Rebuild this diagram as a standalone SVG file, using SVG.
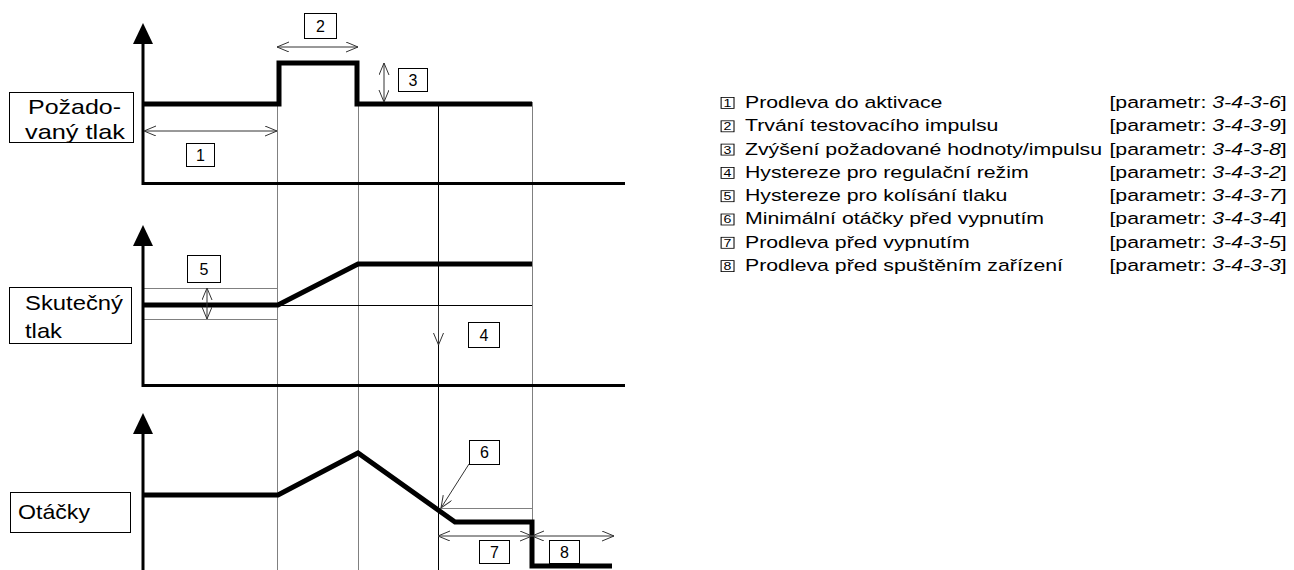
<svg xmlns="http://www.w3.org/2000/svg" width="1294" height="570" viewBox="0 0 1294 570">
  <defs>
    <marker id="open" markerUnits="userSpaceOnUse" markerWidth="14" markerHeight="12" refX="12" refY="5" orient="auto-start-reverse" viewBox="0 0 14 12">
      <path d="M0,0 L12,5 L0,10" fill="none" stroke="#333" stroke-width="1"/>
    </marker>
  </defs>
  <style>
    text { font-family: "Liberation Sans", Arial, sans-serif; fill: #000; }
    .axis { stroke: #000; stroke-width: 3; fill: none; }
    .tip { fill: #000; }
    .sig { stroke: #000; stroke-width: 5; fill: none; stroke-linejoin: miter; stroke-linecap: butt; }
    .grid { stroke: #808080; stroke-width: 1; fill: none; }
    .gridk { stroke: #000; stroke-width: 1; fill: none; }
    .dim { stroke: #333; stroke-width: 1; fill: none; marker-start: url(#open); marker-end: url(#open); }
    .one { stroke: #333; stroke-width: 1; fill: none; marker-end: url(#open); }
    .lbl { fill: #fff; stroke: #000; stroke-width: 1; }
    .lbltxt { font-size: 21px; }
    .num { fill: #fff; stroke: #000; stroke-width: 1; }
    .numtxt { font-size: 16px; text-anchor: middle; }
    .leg { font-size: 16.5px; }
    .legbox { fill: #fff; stroke: #000; stroke-width: 0.8; }
    .legnum { font-size: 11px; text-anchor: middle; }
  </style>

  <!-- time grid -->
  <g id="grid">
    <line class="grid" x1="277.5" y1="104" x2="277.5" y2="570"/>
    <line class="grid" x1="358.5" y1="104" x2="358.5" y2="570"/>
    <line class="gridk" x1="438.5" y1="104" x2="438.5" y2="570"/>
    <line class="grid" x1="532.5" y1="102" x2="532.5" y2="522"/>
    <line class="grid" x1="143" y1="288.5" x2="277" y2="288.5"/>
    <line class="grid" x1="143" y1="319.5" x2="277" y2="319.5"/>
    <line class="gridk" x1="277" y1="305.5" x2="532" y2="305.5" stroke="#444"/>
    <line class="grid" x1="438" y1="508.5" x2="532" y2="508.5"/>
  </g>

  <!-- axes -->
  <g id="axes">
    <path class="axis" d="M143,40 V183.5 H625"/>
    <path class="tip" d="M143,23 L153,44 L133,44 Z"/>
    <path class="axis" d="M143,242 V385.5 H625"/>
    <path class="tip" d="M143,225 L153,246 L133,246 Z"/>
    <path class="axis" d="M143,430 V570"/>
    <path class="tip" d="M143,413 L153,434 L133,434 Z"/>
  </g>

  <!-- signal curves -->
  <g id="signals">
    <path class="sig" d="M143,104 H279 V63 H357 V104 H532"/>
    <path class="sig" d="M143,305 H278 L358,264 H532"/>
    <path class="sig" d="M143,495 H278 L358,453 L455,522 H532 V566 H612"/>
  </g>

  <!-- dimension arrows -->
  <g id="connectors">
    <line class="dim" x1="144" y1="131" x2="277" y2="131"/>
    <line class="dim" x1="277" y1="47" x2="358" y2="47"/>
    <line class="dim" x1="384" y1="63" x2="384" y2="102"/>
    <line class="dim" x1="207" y1="288" x2="207" y2="319"/>
    <line class="one" x1="438.5" y1="306" x2="438.5" y2="345"/>
    <line class="one" x1="469" y1="464" x2="441" y2="508"/>
    <line class="dim" x1="438" y1="536" x2="532" y2="536"/>
    <line class="dim" x1="532" y1="536" x2="614" y2="536"/>
  </g>

  <!-- signal names -->
  <g id="label-setpoint">
    <rect class="lbl" x="9.5" y="92.5" width="124" height="50"/>
    <text class="lbltxt" x="28" y="114" textLength="93" lengthAdjust="spacingAndGlyphs">Požado-</text>
    <text class="lbltxt" x="25" y="138.5" textLength="100" lengthAdjust="spacingAndGlyphs">vaný tlak</text>
  </g>
  <g id="label-actual">
    <rect class="lbl" x="9.5" y="287.5" width="122" height="56"/>
    <text class="lbltxt" x="25" y="310" textLength="98" lengthAdjust="spacingAndGlyphs">Skutečný</text>
    <text class="lbltxt" x="25" y="338" textLength="37" lengthAdjust="spacingAndGlyphs">tlak</text>
  </g>
  <g id="label-speed">
    <rect class="lbl" x="10.5" y="492.5" width="120" height="40"/>
    <text class="lbltxt" x="18" y="519" textLength="72" lengthAdjust="spacingAndGlyphs">Otáčky</text>
  </g>

  <!-- numbered markers -->
  <g id="n1"><rect class="num" x="186.5" y="143.5" width="28" height="23"/><text class="numtxt" x="200.5" y="161">1</text></g>
  <g id="n2"><rect class="num" x="304.5" y="13.5" width="32" height="25"/><text class="numtxt" x="320.5" y="32">2</text></g>
  <g id="n3"><rect class="num" x="398.5" y="68.5" width="29" height="23"/><text class="numtxt" x="413" y="86">3</text></g>
  <g id="n4"><rect class="num" x="468.5" y="322.5" width="31" height="25"/><text class="numtxt" x="484" y="341">4</text></g>
  <g id="n5"><rect class="num" x="187.5" y="255.5" width="33" height="27"/><text class="numtxt" x="204" y="275">5</text></g>
  <g id="n6"><rect class="num" x="469.5" y="440.5" width="30" height="24"/><text class="numtxt" x="484.5" y="458">6</text></g>
  <g id="n7"><rect class="num" x="479.5" y="540.5" width="30" height="23"/><text class="numtxt" x="494.5" y="558">7</text></g>
  <g id="n8"><rect class="num" x="549.5" y="540.5" width="30" height="23"/><text class="numtxt" x="564.5" y="558">8</text></g>

  <!-- parameter legend -->
  <g id="legend" transform="matrix(1.29 0 0 1 0 0)">
    <g id="leg1"><rect class="legbox" x="559" y="97.5" width="10" height="11"/><text class="legnum" x="564" y="107">1</text>
      <text class="leg" x="577.5" y="108">Prodleva do aktivace</text><text class="leg" x="860" y="108">[parametr: <tspan font-style="italic">3-4-3-6</tspan>]</text></g>
    <g id="leg2"><rect class="legbox" x="559" y="120.8" width="10" height="11"/><text class="legnum" x="564" y="130.3">2</text>
      <text class="leg" x="577.5" y="131.3">Trvání testovacího impulsu</text><text class="leg" x="860" y="131.3">[parametr: <tspan font-style="italic">3-4-3-9</tspan>]</text></g>
    <g id="leg3"><rect class="legbox" x="559" y="144.1" width="10" height="11"/><text class="legnum" x="564" y="153.6">3</text>
      <text class="leg" x="577.5" y="154.6">Zvýšení požadované hodnoty/impulsu</text><text class="leg" x="860" y="154.6">[parametr: <tspan font-style="italic">3-4-3-8</tspan>]</text></g>
    <g id="leg4"><rect class="legbox" x="559" y="167.4" width="10" height="11"/><text class="legnum" x="564" y="176.9">4</text>
      <text class="leg" x="577.5" y="177.9">Hystereze pro regulační režim</text><text class="leg" x="860" y="177.9">[parametr: <tspan font-style="italic">3-4-3-2</tspan>]</text></g>
    <g id="leg5"><rect class="legbox" x="559" y="190.7" width="10" height="11"/><text class="legnum" x="564" y="200.2">5</text>
      <text class="leg" x="577.5" y="201.2">Hystereze pro kolísání tlaku</text><text class="leg" x="860" y="201.2">[parametr: <tspan font-style="italic">3-4-3-7</tspan>]</text></g>
    <g id="leg6"><rect class="legbox" x="559" y="214" width="10" height="11"/><text class="legnum" x="564" y="223.5">6</text>
      <text class="leg" x="577.5" y="224.5">Minimální otáčky před vypnutím</text><text class="leg" x="860" y="224.5">[parametr: <tspan font-style="italic">3-4-3-4</tspan>]</text></g>
    <g id="leg7"><rect class="legbox" x="559" y="237.3" width="10" height="11"/><text class="legnum" x="564" y="246.8">7</text>
      <text class="leg" x="577.5" y="247.8">Prodleva před vypnutím</text><text class="leg" x="860" y="247.8">[parametr: <tspan font-style="italic">3-4-3-5</tspan>]</text></g>
    <g id="leg8"><rect class="legbox" x="559" y="260.6" width="10" height="11"/><text class="legnum" x="564" y="270.1">8</text>
      <text class="leg" x="577.5" y="271.1">Prodleva před spuštěním zařízení</text><text class="leg" x="860" y="271.1">[parametr: <tspan font-style="italic">3-4-3-3</tspan>]</text></g>
  </g>
</svg>
